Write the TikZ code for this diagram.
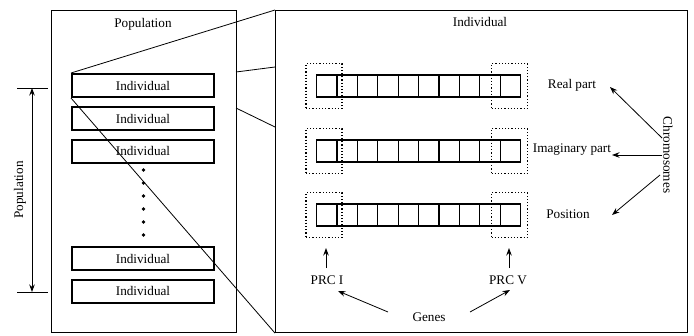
\documentclass[tikz,border=0pt]{standalone}
\usepackage{fontspec}
\setmainfont{Liberation Serif}
\usetikzlibrary{arrows.meta}
\tikzset{
  frame/.style={draw, line width=1.1pt, anchor=north west, inner sep=0pt},
  indbox/.style={draw, line width=2pt, minimum width=142pt, minimum height=23pt, inner sep=0pt},
  cell/.style={draw, line width=1.2pt, minimum width=20.4pt, minimum height=22pt, inner sep=0pt, anchor=west},
  genebox/.style={draw, dotted, line width=1.2pt, minimum width=36pt, minimum height=45pt, inner sep=0pt},
  arr/.style={line width=0.8pt, -{Stealth[length=7.5pt,width=5.5pt]}},
  thin/.style={line width=0.8pt},
  lbl/.style={inner sep=1pt}
}
\begin{document}
\begin{tikzpicture}[x=1pt, y=-1pt, font=\fontsize{13.2}{15}\selectfont]
\useasboundingbox (0,0) rectangle (694,335);

% population column
\node[frame, minimum width=185pt, minimum height=322pt] (pop) at (51,10) {};
\node[lbl] (poptitle) at (143,24) {Population};
\node[indbox] (ind1) at (143,85.5) {Individual};
\node[indbox] (ind2) at (143,118.5) {Individual};
\node[indbox] (ind3) at (143,151) {Individual};
\node[indbox] (ind4) at (143,258.5) {Individual};
\node[indbox] (ind5) at (143,291) {Individual};
\foreach \k/\yy in {1/170,2/183,3/196,4/209,5/222,6/235}
  \fill (143.5,\yy) circle (1.8pt) coordinate (dot\k);

% dimension arrow on the left
\coordinate (dimtop) at (32,88);
\coordinate (dimbot) at (32,292);
\coordinate (tickTL) at (17,88);  \coordinate (tickTR) at (48,88);
\coordinate (tickBL) at (17,292); \coordinate (tickBR) at (48,292);
\draw[thin] (tickTL) -- (tickTR);
\draw[thin] (tickBL) -- (tickBR);
\draw[line width=0.8pt, {Stealth[length=7.5pt,width=5.5pt]}-{Stealth[length=7.5pt,width=5.5pt]}] (dimtop) -- (dimbot);
\node[lbl, rotate=90] (dimlabel) at (20,190) {Population};

% individual (enlarged view)
\node[frame, minimum width=412pt, minimum height=322pt] (big) at (275,10) {};
\node[lbl] (bigtitle) at (480,22) {Individual};

% zoom lines
\draw[thin] (ind1.north west) -- (big.north west);
\draw[thin] (ind1.south west) -- (big.south west);
\coordinate (zA1) at (236,72);  \coordinate (zA2) at (275,67);
\coordinate (zB1) at (236,108); \coordinate (zB2) at (275,127);
\draw[thin] (zA1) -- (zA2);
\draw[thin] (zB1) -- (zB2);

% chromosomes: three rows of ten genes
\foreach \r/\yy in {1/86,2/151,3/215}{
  \foreach \c in {0,...,9}
    \node[cell] (g\r-\c) at ({316+20.4*\c},\yy) {};
  \node[genebox] (gl\r) at (324,\yy) {};
  \node[genebox] (gr\r) at (509.5,\yy) {};
}

% row labels
\node[lbl] (real) at (572,85) {Real part};
\node[lbl] (imag) at (572,150) {Imaginary part};
\node[lbl] (posn) at (568,214) {Position};
\node[lbl, rotate=-90] (chrom) at (668,155) {Chromosomes};
\coordinate (ch1) at (662,138);
\coordinate (ch2) at (662,155);
\coordinate (ch3) at (660,175);
\coordinate (re) at (610,87);
\coordinate (ie) at (612,155);
\coordinate (pe) at (612,215);
\draw[arr] (ch1) -- (re);
\draw[arr] (ch2) -- (ie);
\draw[arr] (ch3) -- (pe);

% gene labels
\node[lbl] (prc1) at (327,280) {PRC I};
\node[lbl] (prc5) at (508,280) {PRC V};
\node[lbl] (genes) at (429,317) {Genes};
\coordinate (p1a) at (326,268); \coordinate (p1b) at (326,248);
\coordinate (p5a) at (509,268); \coordinate (p5b) at (509,248);
\draw[arr] (p1a) -- (p1b);
\draw[arr] (p5a) -- (p5b);
\coordinate (gs1) at (388,312); \coordinate (ge1) at (338,291);
\coordinate (gs2) at (470,312); \coordinate (ge2) at (510,290);
\draw[arr] (gs1) -- (ge1);
\draw[arr] (gs2) -- (ge2);
\end{tikzpicture}
\end{document}
